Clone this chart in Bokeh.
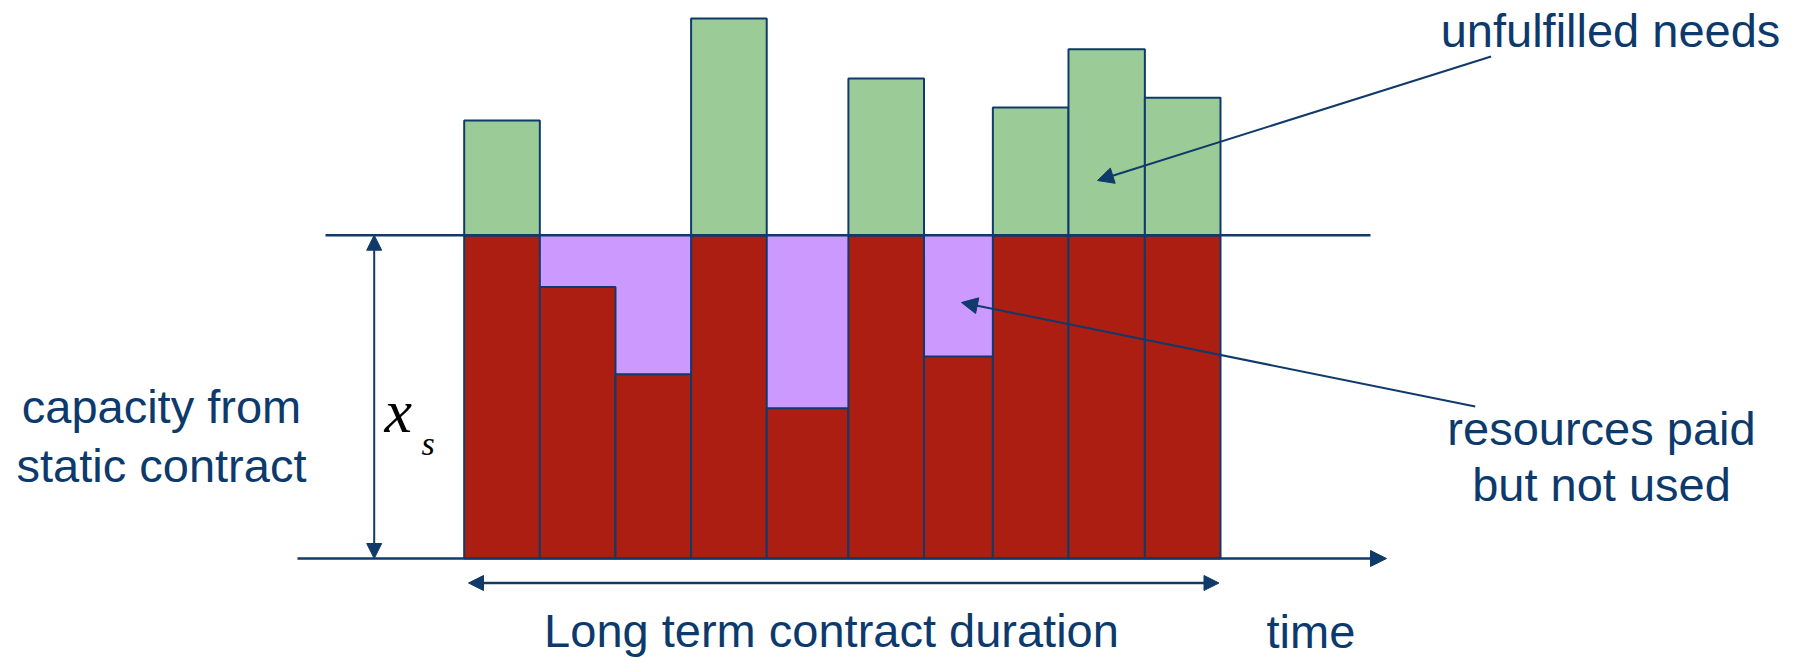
import numpy as np
from bokeh.plotting import figure
from bokeh.models import Range1d, Arrow, NormalHead, Label, ColumnDataSource
from bokeh.embed import file_html
from bokeh.resources import INLINE

# ---------------- data ----------------
periods = list(range(1, 11))
period_edges = [0.0, 1.0, 2.0, 3.0, 4.0, 5.08, 6.08, 6.99, 7.99, 9.0, 10.0]
demand = [13.55, 8.4, 5.7, 16.7, 4.65, 14.85, 6.25, 13.95, 15.75, 14.25]
capacity = 10.0  # x_s, capacity from static contract

# ---------------- styling ----------------
NAVY = "#0F3A6A"
TEXT = "#0D3A6C"
RED = "#AD1E12"
GREEN = "#9BCC98"
PURPLE = "#CC99FF"
W, H = 1801, 658

# pixel <-> data mapping of the frame
X0, UX = 463.7, 75.63
Y0, UY = 558.0, 32.33
def px(x):
    return (x - X0) / UX
def py(y):
    return (Y0 - y) / UY

p = figure(width=W, height=H, output_backend="svg", toolbar_location=None,
           x_range=Range1d(px(0), px(W)), y_range=Range1d(py(H), py(0)),
           min_border=0, min_border_left=0, min_border_right=0,
           min_border_top=0, min_border_bottom=0)
p.axis.visible = False
p.grid.visible = False
p.outline_line_color = None
p.background_fill_color = "white"
p.border_fill_color = "white"

lefts = period_edges[:-1]
rights = period_edges[1:]
used = [min(d, capacity) for d in demand]

# paid capacity (purple) over the whole contract duration
p.quad(left=[period_edges[0]], right=[period_edges[-1]], bottom=[0], top=[capacity],
       fill_color=PURPLE, line_color=PURPLE, line_width=1)

# used resources (red)
src_used = ColumnDataSource(dict(left=lefts, right=rights, bottom=[0] * len(used), top=used))
p.quad(left="left", right="right", bottom="bottom", top="top", source=src_used,
       fill_color=RED, line_color=NAVY, line_width=2)

# unfulfilled needs (green)
gl, gr, gt = [], [], []
for l, r, d in zip(lefts, rights, demand):
    if d > capacity:
        gl.append(l); gr.append(r); gt.append(d)
src_over = ColumnDataSource(dict(left=gl, right=gr, bottom=[capacity] * len(gl), top=gt))
p.quad(left="left", right="right", bottom="bottom", top="top", source=src_over,
       fill_color=GREEN, line_color=NAVY, line_width=2)

# capacity line
p.line(x=[px(325), px(1370)], y=[capacity, capacity], line_color=NAVY, line_width=2.5)

# time axis
p.add_layout(Arrow(x_start=px(297), y_start=0, x_end=px(1386), y_end=0,
                   line_color=NAVY, line_width=2.5,
                   end=NormalHead(size=16, fill_color=NAVY, line_color=NAVY)))

# contract duration double arrow
p.add_layout(Arrow(x_start=px(468), y_start=py(582.5), x_end=px(1218.5), y_end=py(582.5),
                   line_color=NAVY, line_width=2.5,
                   start=NormalHead(size=15, fill_color=NAVY, line_color=NAVY),
                   end=NormalHead(size=15, fill_color=NAVY, line_color=NAVY)))

# x_s double arrow
p.add_layout(Arrow(x_start=px(373.7), y_start=0, x_end=px(373.7), y_end=capacity,
                   line_color=NAVY, line_width=2,
                   start=NormalHead(size=15, fill_color=NAVY, line_color=NAVY),
                   end=NormalHead(size=15, fill_color=NAVY, line_color=NAVY)))

# annotation arrows
p.add_layout(Arrow(x_start=px(1490.6), y_start=py(56), x_end=px(1097), y_end=py(180),
                   line_color=NAVY, line_width=2,
                   end=NormalHead(size=16, fill_color=NAVY, line_color=NAVY)))
p.add_layout(Arrow(x_start=px(1474.7), y_start=py(406), x_end=px(961), y_end=py(302),
                   line_color=NAVY, line_width=2,
                   end=NormalHead(size=16, fill_color=NAVY, line_color=NAVY)))

def lab(x, y, text, size=47, font="Liberation Sans", style="normal", align="center", color=TEXT):
    y_adj = y - 0.36 * size
    p.add_layout(Label(x=px(x), y=py(y_adj), text=text, text_align=align,
                       text_baseline="alphabetic", text_font_size=f"{size}px",
                       text_font=font, text_font_style=style, text_color=color))

lab(1610, 47, "unfulfilled needs")
lab(1601, 445, "resources paid")
lab(1601, 501, "but not used")
lab(161, 423, "capacity from")
lab(161, 482, "static contract")
lab(831, 647, "Long term contract duration")
lab(1266, 648, "time", align="left")
lab(384, 433, "x", size=62, font="Liberation Serif", style="italic", align="left", color="black")
lab(421, 455, "s", size=34, font="Liberation Serif", style="italic", align="left", color="black")

open("out.html", "w").write(file_html(p, INLINE))
